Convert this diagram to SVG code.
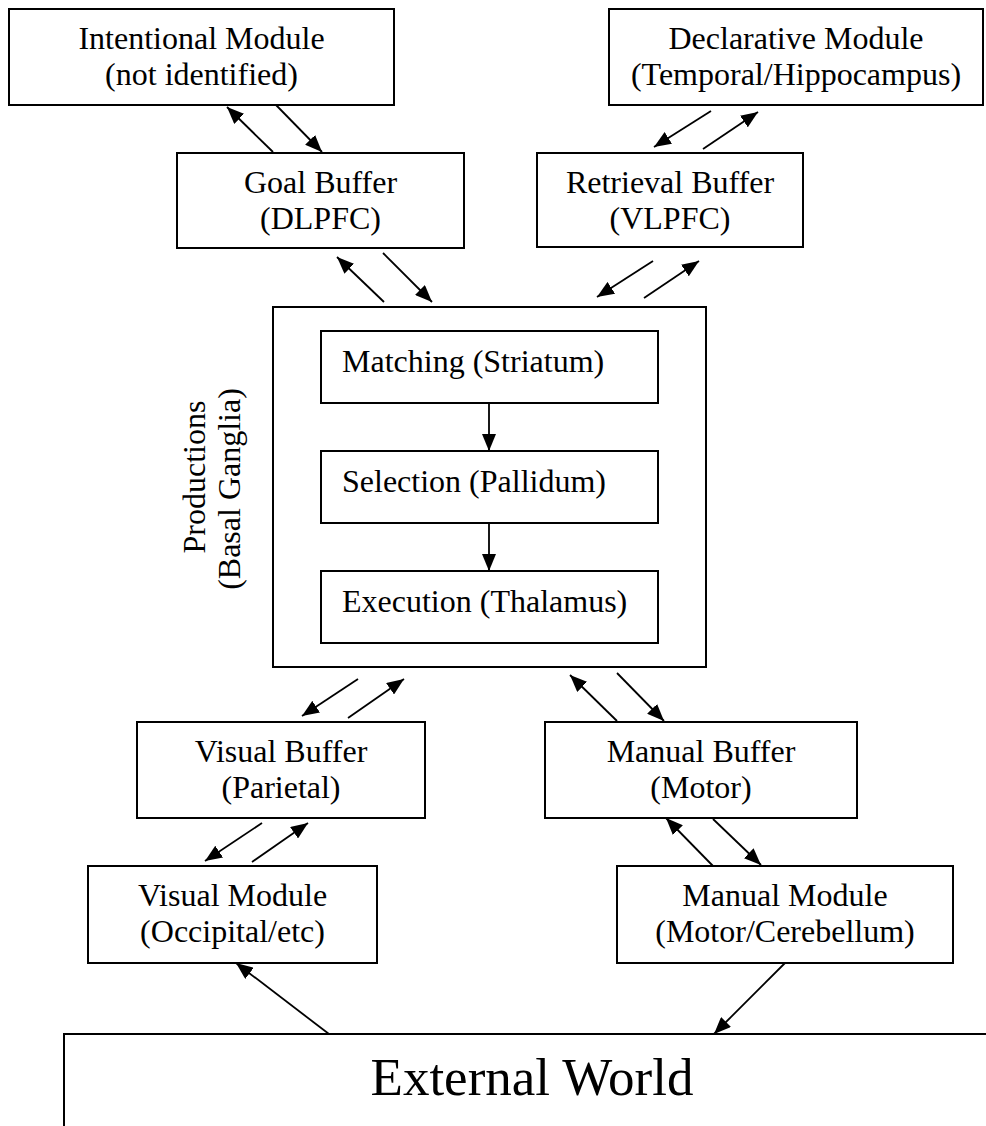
<svg xmlns="http://www.w3.org/2000/svg" width="986" height="1126" viewBox="0 0 986 1126">
<style>
rect{fill:#fff;stroke:#000;stroke-width:2}
text{font-family:"Liberation Serif","Times New Roman",serif;font-size:32px;fill:#000}
.c{text-anchor:middle}
.conn line{stroke:#000;stroke-width:1.8;marker-end:url(#ah)}
</style>
<defs>
<marker id="ah" markerUnits="userSpaceOnUse" markerWidth="18" markerHeight="14" viewBox="0 0 18 14" refX="17" refY="7" orient="auto">
<path d="M0,0 L17,7 L0,14 z" fill="#000"/>
</marker>
</defs>
<rect width="986" height="1126" style="stroke:none"/>
<g id="intentional"><rect x="9" y="9" width="385" height="96"/><text class="c" x="201.5" y="49">Intentional Module</text><text class="c" x="201.5" y="85">(not identified)</text></g>
<g id="declarative"><rect x="609" y="9" width="374" height="96"/><text class="c" x="796" y="49">Declarative Module</text><text class="c" x="796" y="85">(Temporal/Hippocampus)</text></g>
<g id="goal"><rect x="177" y="153" width="287" height="95"/><text class="c" x="320.5" y="193">Goal Buffer</text><text class="c" x="320.5" y="229">(DLPFC)</text></g>
<g id="retrieval"><rect x="537" y="153" width="266" height="94"/><text class="c" x="670" y="193">Retrieval Buffer</text><text class="c" x="670" y="229">(VLPFC)</text></g>
<g id="productions"><rect x="273" y="307" width="433" height="360"/>
<text class="c" transform="translate(205,477) rotate(-90)">Productions</text>
<text class="c" transform="translate(240,489) rotate(-90)">(Basal Ganglia)</text></g>
<g id="matching"><rect x="321" y="331" width="337" height="72"/><text x="342" y="372">Matching (Striatum)</text></g>
<g id="selection"><rect x="321" y="451" width="337" height="72"/><text x="342" y="492">Selection (Pallidum)</text></g>
<g id="execution"><rect x="321" y="571" width="337" height="72"/><text x="342" y="612">Execution (Thalamus)</text></g>
<g id="visual-buffer"><rect x="137" y="722" width="288" height="96"/><text class="c" x="281" y="762">Visual Buffer</text><text class="c" x="281" y="798">(Parietal)</text></g>
<g id="manual-buffer"><rect x="545" y="722" width="312" height="96"/><text class="c" x="701" y="762">Manual Buffer</text><text class="c" x="701" y="798">(Motor)</text></g>
<g id="visual-module"><rect x="88" y="866" width="289" height="97"/><text class="c" x="232.5" y="906">Visual Module</text><text class="c" x="232.5" y="942">(Occipital/etc)</text></g>
<g id="manual-module"><rect x="617" y="866" width="336" height="97"/><text class="c" x="785" y="906">Manual Module</text><text class="c" x="785" y="942">(Motor/Cerebellum)</text></g>
<g id="external-world"><rect x="64" y="1034" width="940" height="120"/><text class="c" x="532" y="1095" style="font-size:53px">External World</text></g>
<g class="conn" id="connectors">
<line x1="273" y1="152" x2="227" y2="107"/>
<line x1="276" y1="105" x2="322" y2="152"/>
<line x1="711" y1="111" x2="654" y2="147"/>
<line x1="703" y1="149" x2="758" y2="112"/>
<line x1="384" y1="302" x2="337" y2="257"/>
<line x1="383" y1="253" x2="432" y2="302"/>
<line x1="653" y1="261" x2="597" y2="297"/>
<line x1="644" y1="298" x2="699" y2="261"/>
<line x1="489" y1="403" x2="489" y2="451"/>
<line x1="489" y1="523" x2="489" y2="571"/>
<line x1="358" y1="679" x2="302" y2="716"/>
<line x1="348" y1="718" x2="404" y2="679"/>
<line x1="262" y1="823" x2="205" y2="861"/>
<line x1="252" y1="862" x2="308" y2="823"/>
<line x1="617" y1="721" x2="570" y2="675"/>
<line x1="617" y1="673" x2="664" y2="721"/>
<line x1="713" y1="866" x2="666" y2="818"/>
<line x1="713" y1="819" x2="761" y2="865"/>
<line x1="329" y1="1034" x2="236" y2="963"/>
<line x1="785" y1="963" x2="714" y2="1034"/>
</g>
</svg>
